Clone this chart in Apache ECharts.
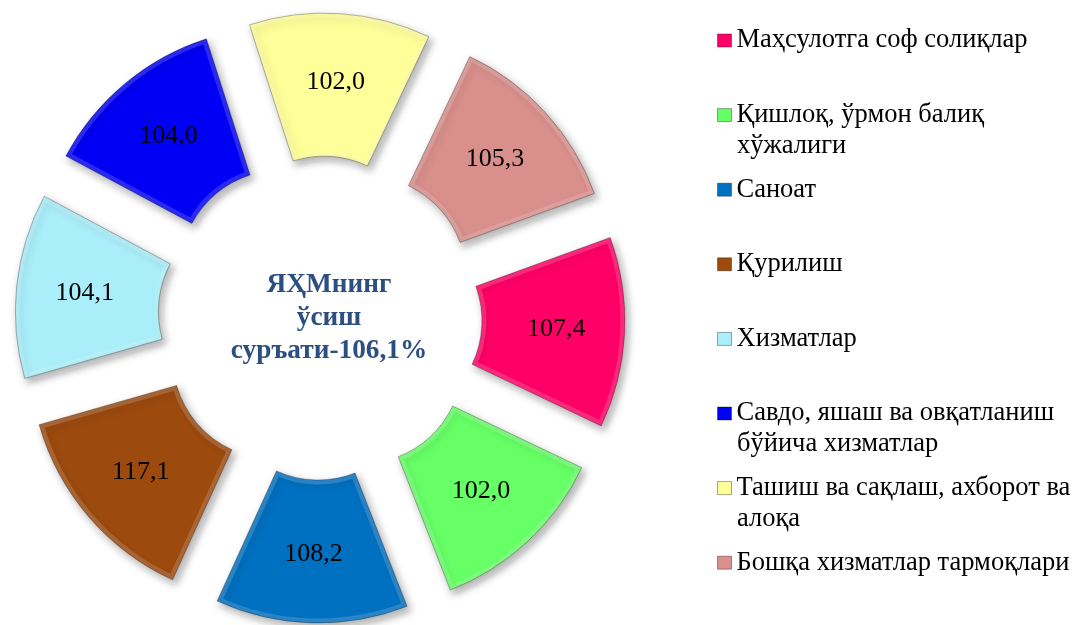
<!DOCTYPE html>
<html>
<head>
<meta charset="utf-8">
<script src="https://cdn.jsdelivr.net/npm/echarts@6/dist/echarts.min.js"></script>
<style>
  html, body { margin: 0; padding: 0; background: #fff; }
  #main { width: 1078px; height: 625px; }
</style>
</head>
<body>
<div id="main"></div>
<script>
// категориялар ва қийматлар
const categories = [
  'Маҳсулотга соф солиқлар',
  'Қишлоқ, ўрмон балиқ\nхўжалиги',
  'Саноат',
  'Қурилиш',
  'Хизматлар',
  'Савдо, яшаш ва овқатланиш\nбўйича хизматлар',
  'Ташиш ва сақлаш, ахборот ва\nалоқа',
  'Бошқа хизматлар тармоқлари'
]
const values = [107.4, 102.0, 108.2, 117.1, 104.1, 104.0, 102.0, 105.3]
const centerText = 'ЯҲМнинг\nўсиш\nсуръати-106,1%'

const palette = ['#FF0066', '#66FF66', '#0070C0', '#9C4A0E', '#AAEEFA', '#0000F5', '#FFFF99', '#D98F8B']
const serif = '"Liberation Serif", "Times New Roman", serif'

const legendLeft = 717
const legendTop = 27
const legendStep = 74.6
const lineH = 27
const legendFont = 26.5

const chart = echarts.init(document.getElementById('main'), null, { renderer: 'canvas' })

// иккинчи қаторлар (легенда белгиси биринчи қаторга тўғри келиши учун)
const extraLines = []
categories.forEach((name, i) => {
  const parts = name.split('\n')
  if (parts.length > 1) {
    extraLines.push({
      type: 'text',
      left: legendLeft + 20,
      top: legendTop + i * legendStep + 31,
      style: {
        text: parts.slice(1).join('\n'),
        font: legendFont + 'px ' + serif,
        fill: '#000'
      }
    })
  }
})

const pieBase = {
  type: 'pie',
  center: [320, 318],
  radius: [101, 244],
  startAngle: 20,
  clockwise: true,
  selectedMode: 'multiple',
  selectedOffset: 61,
  avoidLabelOverlap: false,
  emphasis: { disabled: true },
  labelLine: { show: false }
}

const option = {
  backgroundColor: '#fff',
  color: palette,
  legend: {
    orient: 'vertical',
    left: legendLeft,
    top: legendTop,
    padding: 0,
    itemWidth: 14,
    itemHeight: 13,
    itemGap: legendStep - lineH,
    icon: 'rect',
    selectedMode: false,
    formatter: name => name.split('\n')[0],
    itemStyle: {
      borderColor: 'rgba(0,0,0,0.35)',
      borderWidth: 1
    },
    textStyle: {
      fontFamily: serif,
      fontSize: legendFont,
      lineHeight: lineH,
      color: '#000'
    },
    data: categories
  },
  graphic: [
    {
      type: 'text',
      x: 329,
      y: 318,
      style: {
        text: centerText,
        font: 'bold 27.3px ' + serif,
        fill: '#2B4F81',
        align: 'center',
        verticalAlign: 'middle',
        lineHeight: 33
      }
    },
    ...extraLines
  ],
  series: [
    {
      ...pieBase,
      label: {
        show: true,
        position: 'inner',
        formatter: ({ value }) => value.toFixed(1).replace('.', ','),
        fontFamily: serif,
        fontSize: 26,
        color: '#000'
      },
      itemStyle: {
        borderColor: 'rgba(255,255,255,0.16)',
        borderWidth: 9,
        shadowBlur: 7,
        shadowColor: 'rgba(0,0,0,0.35)',
        shadowOffsetX: 3,
        shadowOffsetY: 4
      },
      data: categories.map((name, i) => ({
        name,
        value: values[i],
        selected: true
      }))
    },
    {
      // юпқа тўқ чегара
      ...pieBase,
      silent: true,
      label: { show: false },
      itemStyle: {
        color: 'rgba(0,0,0,0)',
        borderColor: 'rgba(0,0,0,0.28)',
        borderWidth: 1
      },
      data: categories.map((name, i) => ({
        name,
        value: values[i],
        selected: true
      }))
    }
  ]
}

chart.setOption(option)
</script>
</body>
</html>
